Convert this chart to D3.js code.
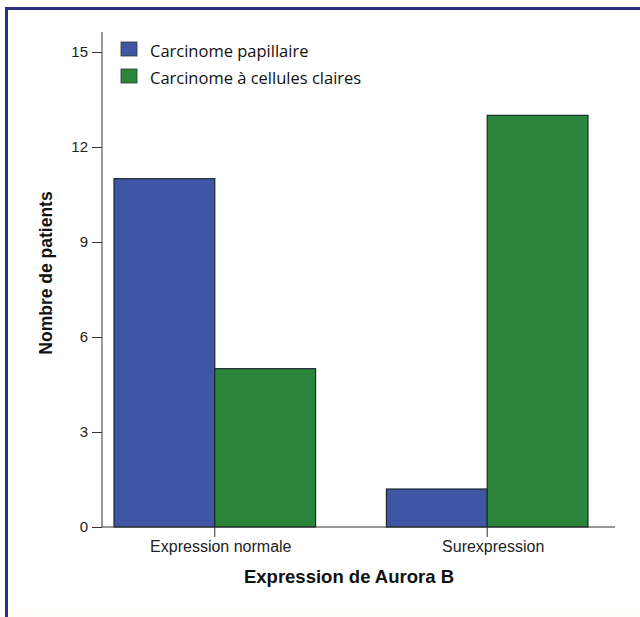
<!DOCTYPE html>
<html>
<head>
<meta charset="utf-8">
<script src="https://cdn.jsdelivr.net/npm/d3@7"></script>
<style>
  body { margin: 0; background: #fff; }
</style>
</head>
<body>
<svg id="bar_svg" width="640" height="617"></svg>
<script>
// grouped bar chart - Aurora B expression
var groups = ["Expression normale", "Surexpression"]
var seriesNames = ["Carcinome papillaire", "Carcinome à cellules claires"]
var papillaire = [11, 1.2]
var cellulesClaires = [5, 13]
var yTicks = [0, 3, 6, 9, 12, 15]

var colors = ["#3f56a4", "#2b853a"]

var margin = { top: 52, right: 25, bottom: 90, left: 102 }

var root = d3.select("#bar_svg")

// frame lines (top and left)
root.append("rect").attr("x", 5).attr("y", 7).attr("width", 640).attr("height", 3).style("fill", "#2b2f80")
root.append("rect").attr("x", 5).attr("y", 7).attr("width", 3).attr("height", 617).style("fill", "#2b2f80")
root.append("rect").attr("x", 8).attr("y", 608).attr("width", 632).attr("height", 9).style("fill", "#fffdf7")

var svg = root.append("g")
  .attr("transform", "translate(" + margin.left + "," + margin.top + ")")

var y = d3.scaleLinear()
  .domain([0, 15])
  .range([475, 0])

var x = d3.scaleBand()
  .domain(groups)
  .range([12, 486])
  .paddingInner(0.26)
  .paddingOuter(0)

var xSub = d3.scaleBand()
  .domain(seriesNames)
  .range([0, x.bandwidth()])

// y axis
var yAxis = svg.append("g")
  .call(d3.axisLeft(y).tickValues(yTicks).tickSize(10).tickPadding(4))
yAxis.select(".domain").attr("d", "M0," + (-20) + "V" + y(0)).attr("stroke", "#333")
yAxis.selectAll("line").attr("stroke", "#333")
yAxis.selectAll("text")
  .style("font-family", "Liberation Sans, Arial, sans-serif")
  .style("font-size", "15px")
  .style("fill", "#222")

// bars
var rows = groups.map(function (g, i) {
  return { group: g, values: [papillaire[i], cellulesClaires[i]] }
})

svg.selectAll("barGroups")
  .data(rows)
  .enter()
  .append("g")
  .attr("transform", function (d) { return "translate(" + x(d.group) + ",0)" })
  .selectAll("rect")
  .data(function (d) { return d.values.map(function (v, j) { return { key: seriesNames[j], value: v, idx: j } }) })
  .enter()
  .append("rect")
  .attr("x", function (d) { return xSub(d.key) })
  .attr("y", function (d) { return y(d.value) })
  .attr("width", xSub.bandwidth())
  .attr("height", function (d) { return y(0) - y(d.value) })
  .style("fill", function (d) { return colors[d.idx] })
  .attr("stroke", "#1c2a30")
  .attr("stroke-width", 1.2)

// x axis
var xAxis = svg.append("g")
  .attr("transform", "translate(0," + y(0) + ")")
  .call(d3.axisBottom(x).tickSize(10).tickSizeOuter(0).tickPadding(4))
xAxis.select(".domain").attr("d", "M0,0H513").attr("stroke", "#333")
xAxis.selectAll("line").attr("stroke", "#333")
xAxis.selectAll("text")
  .attr("dx", 6)
  .style("font-family", "Liberation Sans, Arial, sans-serif")
  .style("font-size", "16px")
  .style("fill", "#222")

// axis titles
svg.append("text")
  .attr("text-anchor", "middle")
  .attr("x", 247)
  .attr("y", 531)
  .text("Expression de Aurora B")
  .style("font-family", "Liberation Sans, Arial, sans-serif")
  .style("font-weight", "bold")
  .style("font-size", "18.5px")
  .style("fill", "#111")

svg.append("text")
  .attr("transform", "rotate(-90)")
  .attr("x", -221)
  .attr("y", -50)
  .style("text-anchor", "middle")
  .text("Nombre de patients")
  .style("font-family", "Liberation Sans, Arial, sans-serif")
  .style("font-weight", "bold")
  .style("font-size", "17.5px")
  .style("fill", "#111")

// legend
var legend = svg.selectAll("legendItems")
  .data(seriesNames)
  .enter()
  .append("g")
  .attr("transform", function (d, i) { return "translate(19," + (-10 + i * 27) + ")" })

legend.append("rect")
  .attr("width", 16)
  .attr("height", 14)
  .attr("y", 0)
  .style("fill", function (d, i) { return colors[i] })
  .attr("stroke", "#333")
  .attr("stroke-width", 0.8)

legend.append("text")
  .attr("x", 29)
  .attr("y", 15)
  .text(function (d) { return d })
  .style("font-family", "Open Sans, sans-serif")
  .style("font-size", "16.5px")
  .style("fill", "#111")
</script>
</body>
</html>
